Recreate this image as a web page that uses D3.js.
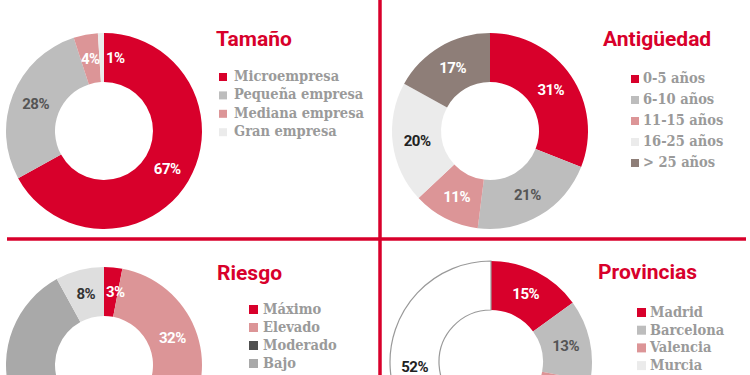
<!DOCTYPE html>
<html>
<head>
<meta charset="utf-8">
<script src="https://cdn.jsdelivr.net/npm/d3@7/dist/d3.min.js"></script>
<style>
  body { margin: 0; background: #fff; }
  svg { display: block; }
</style>
</head>
<body>
<div class="container"></div>
<script>
// data
const tamanoCategories = ['Microempresa', 'Pequeña empresa', 'Mediana empresa', 'Gran empresa'];
const tamanoValues = [67, 28, 4, 1];

const antiguedadCategories = ['0-5 años', '6-10 años', '11-15 años', '16-25 años', '> 25 años'];
const antiguedadValues = [31, 21, 11, 20, 17];

const riesgoCategories = ['Máximo', 'Elevado', 'Moderado', 'Bajo', 'Mínimo'];
const riesgoValues = [3, 32, 13, 44, 8];

const provinciasCategories = ['Madrid', 'Barcelona', 'Valencia', 'Murcia', 'Resto'];
const provinciasValues = [15, 13, 12, 8, 52];

const W = 750;
const H = 375;
const RED = '#d8002b';
const TITLE_FONT = 'Roboto, "Open Sans", sans-serif';
const LEGEND_FONT = '"DejaVu Serif Condensed", "DejaVu Serif", serif';

var display = function () {
  var svg = d3.select('.container').append('svg')
    .attr('width', W)
    .attr('height', H);

  drawDonut(svg, {
    title: 'Tamaño', titleX: 216, titleY: 46,
    categories: tamanoCategories, values: tamanoValues,
    colors: [RED, '#bdbdbd', '#dc9597', '#ebebeb'],
    labelColors: ['#fff', '#555', '#fff', '#fff'],
    cx: 104, cy: 131, outer: 98, inner: 49,
    legendX: 219, legendY: 81, legendStep: 18.4, legendTextX: 234, box: 8
  });

  drawDonut(svg, {
    title: 'Antigüedad', titleX: 603, titleY: 46,
    categories: antiguedadCategories, values: antiguedadValues,
    colors: [RED, '#bdbdbd', '#dc9597', '#ebebeb', '#8e7e78'],
    labelColors: ['#fff', '#555', '#fff', '#222', '#fff'],
    cx: 490, cy: 131, outer: 98, inner: 49,
    legendX: 631, legendY: 83, legendStep: 21, legendTextX: 643, box: 8
  });

  drawDonut(svg, {
    title: 'Riesgo', titleX: 217, titleY: 280,
    categories: riesgoCategories, values: riesgoValues,
    colors: [RED, '#dc9597', '#505050', '#a9a9a9', '#dedede'],
    labelColors: ['#fff', '#fff', '#fff', '#333', '#333'],
    cx: 104, cy: 365, outer: 98, inner: 49,
    legendX: 249, legendY: 314, legendStep: 18, legendTextX: 263, box: 9
  });

  drawDonut(svg, {
    title: 'Provincias', titleX: 598, titleY: 279,
    categories: provinciasCategories, values: provinciasValues,
    colors: [RED, '#bdbdbd', '#dc9597', '#ebebeb', '#fff'],
    strokes: ['none', 'none', 'none', 'none', '#999'],
    labelColors: ['#fff', '#555', '#fff', '#333', '#222'],
    cx: 491, cy: 362, outer: 101, inner: 52,
    legendX: 637, legendY: 317, legendStep: 17.7, legendTextX: 650, box: 9
  });

  drawDividers(svg);
}

var drawDonut = function (svg, o) {
  var pie = d3.pie().sort(null).value(function (d) { return d; });
  var arc = d3.arc().innerRadius(o.inner).outerRadius(o.outer);
  var mid = (o.inner + o.outer) / 2;
  var labelArc = d3.arc().innerRadius(mid).outerRadius(mid);
  var arcs = pie(o.values);

  var g = svg.append('g')
    .attr('transform', 'translate(' + o.cx + ',' + o.cy + ')');

  g.selectAll('path').data(arcs).enter().append('path')
    .attr('d', arc)
    .style('fill', function (d, i) { return o.colors[i]; })
    .attr('stroke', function (d, i) { return o.strokes ? o.strokes[i] : 'none'; })
    .attr('stroke-width', 1.2);

  // only labels that fall inside the picture (the page is cut at the bottom)
  var shown = arcs.filter(function (d) { return o.cy + labelArc.centroid(d)[1] + 6 < H; });

  // small slices near 12 o'clock get their label pushed to the right of the top line
  g.selectAll('text').data(shown).enter().append('text')
    .attr('x', function (d) { return d.data < 4 ? 2 : labelArc.centroid(d)[0]; })
    .attr('y', function (d) { return labelArc.centroid(d)[1]; })
    .attr('dy', '0.36em')
    .attr('text-anchor', function (d) { return d.data < 4 ? 'start' : 'middle'; })
    .style('font-family', TITLE_FONT)
    .style('font-weight', 700)
    .style('font-size', '15px')
    .style('letter-spacing', '-0.5px')
    .style('fill', function (d) { return o.labelColors[d.index]; })
    .text(function (d) { return d.data + '%'; });

  svg.append('text')
    .attr('x', o.titleX)
    .attr('y', o.titleY)
    .style('font-family', TITLE_FONT)
    .style('font-weight', 700)
    .style('font-size', '21px')
    .style('fill', RED)
    .text(o.title);

  var items = o.categories.filter(function (d, i) { return o.legendY + i * o.legendStep < H; });

  var legend = svg.append('g');
  var rows = legend.selectAll('g').data(items).enter().append('g')
    .attr('transform', function (d, i) { return 'translate(0,' + (o.legendY + i * o.legendStep) + ')'; });
  rows.append('rect')
    .attr('x', o.legendX)
    .attr('y', -o.box)
    .attr('width', o.box)
    .attr('height', o.box)
    .style('fill', function (d, i) { return o.colors[i]; })
    .attr('stroke', function (d, i) { return o.strokes && o.strokes[i] !== 'none' ? o.strokes[i] : 'none'; });
  rows.append('text')
    .attr('x', o.legendTextX)
    .attr('y', 0)
    .style('font-family', LEGEND_FONT)
    .style('font-weight', 700)
    .style('font-size', '14.5px')
    .style('fill', '#9a9a9a')
    .text(function (d) { return d; });
}

var drawDividers = function (svg) {
  svg.append('line')
    .attr('x1', 7).attr('y1', 239)
    .attr('x2', 746).attr('y2', 239)
    .attr('stroke', RED)
    .attr('stroke-width', '3.5px');
  svg.append('line')
    .attr('x1', 380).attr('y1', 0)
    .attr('x2', 380).attr('y2', H)
    .attr('stroke', RED)
    .attr('stroke-width', '3.5px');
}

window.onload = display;
</script>
</body>
</html>
